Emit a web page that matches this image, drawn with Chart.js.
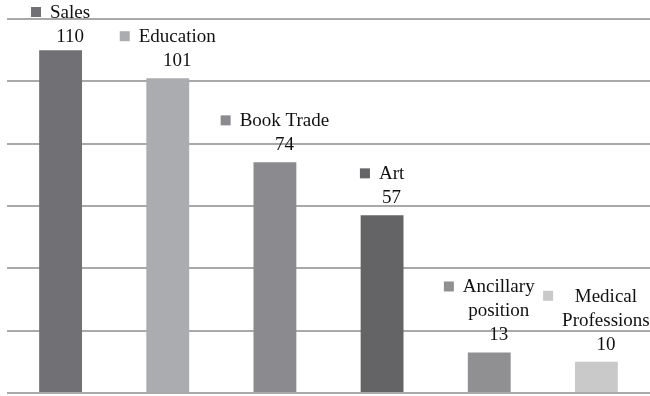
<!DOCTYPE html>
<html>
<head>
<meta charset="utf-8">
<script src="https://cdn.jsdelivr.net/npm/chart.js@4"></script>
<style>
  html, body { margin: 0; padding: 0; background: #fff; }
  #wrap { width: 650px; height: 396px; }
</style>
</head>
<body>
<div id="wrap"><canvas id="barChart" width="650" height="396"></canvas></div>
<script>
// categories (multi-line names are arrays of lines)
const categories = [
  ["Sales"],
  ["Education"],
  ["Book Trade"],
  ["Art"],
  ["Ancillary", "position"],
  ["Medical", "Professions"],
];
const values = [110, 101, 74, 57, 13, 10];
const barColors = ["#717175", "#abacaf", "#8b8b8f", "#646466", "#909093", "#c9c9c9"];

const labelFont = "19px 'Liberation Serif', 'Times New Roman', serif";
const lineStep = 24;

// legend-key style labels above each bar: colour square + name, value underneath
const keyLabels = {
  id: "keyLabels",
  afterDatasetsDraw(chart) {
    const ctx = chart.ctx;
    const meta = chart.getDatasetMeta(0);
    ctx.save();
    ctx.font = labelFont;
    ctx.fillStyle = "#111";
    ctx.textBaseline = "middle";
    ctx.textAlign = "center";
    meta.data.forEach((bar, i) => {
      const lines = categories[i];
      const textW = Math.max(...lines.map((l) => ctx.measureText(l).width));
      const blockW = 10 + 9 + textW;
      const left = bar.x - blockW / 2;
      const textX = left + 19 + textW / 2;
      let valueY = bar.y - 18;
      let topY = valueY - lines.length * lineStep;
      if (topY < 12) {
        valueY += 12 - topY;
        topY = 12;
      }
      ctx.fillStyle = barColors[i];
      ctx.fillRect(left, topY - 5, 10, 10);
      ctx.fillStyle = "#111";
      lines.forEach((l, k) => ctx.fillText(l, textX, topY + k * lineStep + 1));
      ctx.fillText(String(values[i]), textX, valueY + 1);
    });
    ctx.restore();
  },
};

new Chart(document.getElementById("barChart"), {
  type: "bar",
  data: {
    labels: categories.map((c) => c.join(" ")),
    datasets: [
      {
        data: values,
        backgroundColor: barColors,
        barPercentage: 0.4,
        categoryPercentage: 1,
      },
    ],
  },
  options: {
    responsive: false,
    animation: false,
    layout: { padding: { left: 7, right: 0, top: 19, bottom: 3 } },
    plugins: { legend: { display: false }, tooltip: { enabled: false } },
    scales: {
      x: { display: false },
      y: {
        min: 0,
        max: 120,
        ticks: { display: false, stepSize: 20 },
        grid: { color: "#a9a9a9", lineWidth: 2, drawTicks: false },
        border: { display: false },
      },
    },
  },
  plugins: [keyLabels],
});
</script>
</body>
</html>
